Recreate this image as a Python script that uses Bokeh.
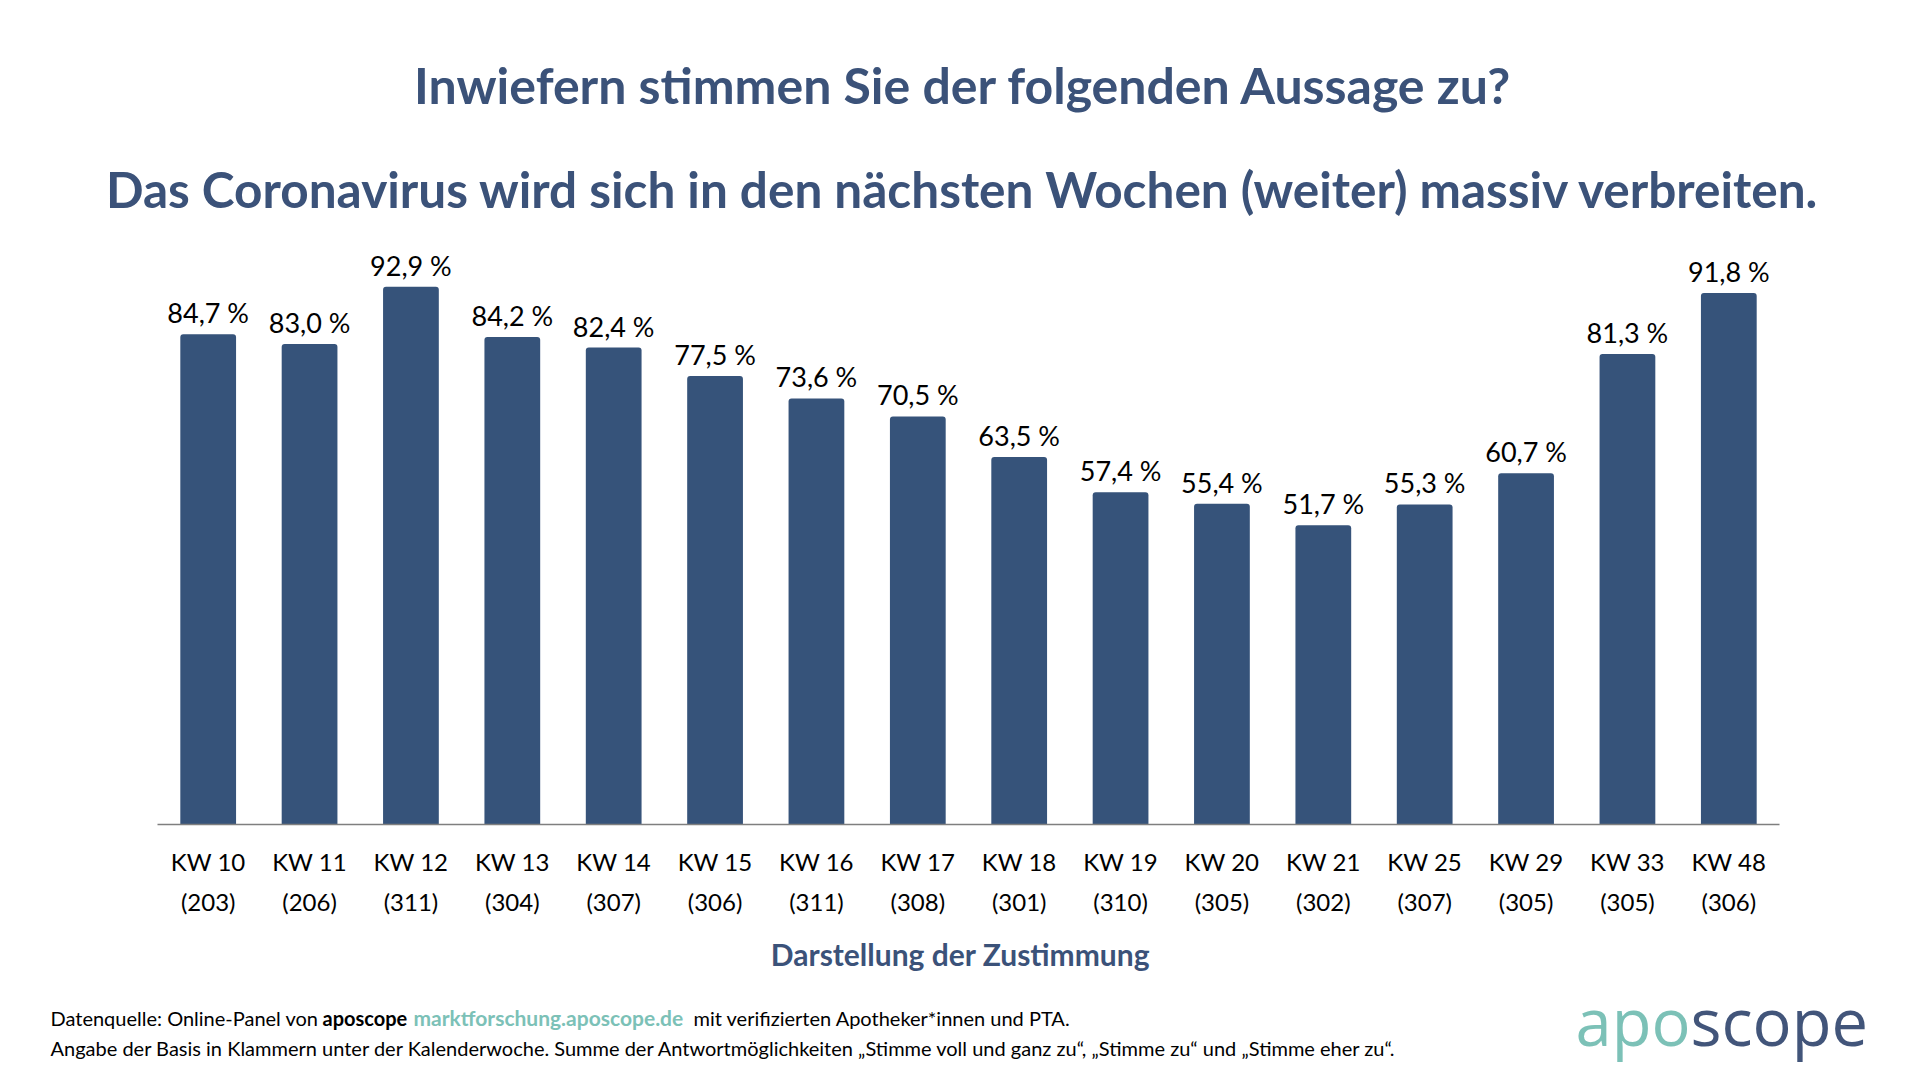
from bokeh.plotting import figure
from bokeh.layouts import column
from bokeh.models import ColumnDataSource, LabelSet, Range1d, FixedTicker
from bokeh.core.properties import value
from bokeh.embed import file_html
from bokeh.resources import INLINE

# ---------------- data ----------------
weeks = ["KW 10", "KW 11", "KW 12", "KW 13", "KW 14", "KW 15", "KW 16", "KW 17",
         "KW 18", "KW 19", "KW 20", "KW 21", "KW 25", "KW 29", "KW 33", "KW 48"]
bases = [203, 206, 311, 304, 307, 306, 311, 308, 301, 310, 305, 302, 307, 305, 305, 306]
values = [84.7, 83.0, 92.9, 84.2, 82.4, 77.5, 73.6, 70.5, 63.5, 57.4, 55.4, 51.7,
          55.3, 60.7, 81.3, 91.8]

title_1 = "Inwiefern stimmen Sie der folgenden Aussage zu?"
title_2 = "Das Coronavirus wird sich in den nächsten Wochen (weiter) massiv verbreiten."
x_title = "Darstellung der Zustimmung"
footer_1 = ["Datenquelle: Online-Panel von ", "aposcope", "marktforschung.aposcope.de",
            "mit verifizierten Apotheker*innen und PTA."]
footer_2 = ("Angabe der Basis in Klammern unter der Kalenderwoche. Summe der Antwortmöglichkeiten "
            "\u201eStimme voll und ganz zu\u201c, \u201eStimme zu\u201c und \u201eStimme eher zu\u201c.")
logo_parts = ["apo", "scope"]

# ---------------- styles ----------------
BAR = "#36537a"
BLUE = "#3b5279"
TEAL = "#7cc1b7"
LOGO_BLUE = "#42557a"
FONT = "Lato"
W = 1904
PLOT_L, PLOT_R = 157, 1779          # pixel extent of the category band


def blank(height):
    f = figure(width=W, height=height, x_range=Range1d(0, W), y_range=Range1d(0, height),
               min_border=0, output_backend="svg", toolbar_location=None, title=None,
               x_axis_location=None, y_axis_location=None,
               background_fill_color="white", border_fill_color="white")
    f.outline_line_color = None
    f.grid.visible = False
    return f


def put(f, x, y, text, size, color, style="normal", align="left", font=FONT):
    f.text(x=[x], y=[y], text=[text], text_font=value(font), text_font_size=value(size),
           text_font_style=style, text_color=color, text_align=align,
           text_baseline="alphabetic")


# ---------------- header ----------------
H_TOP = 222
head = blank(H_TOP)
put(head, 963, H_TOP - 104 + 20, title_1, "50px", BLUE, "bold", "center")
put(head, 963, H_TOP - 206 + 18, title_2, "49.5px", BLUE, "bold", "center")

# ---------------- main chart ----------------
n = len(weeks)
pos = [i + 0.5 for i in range(n)]
tick_text = [f"{w}\n({b})" for w, b in zip(weeks, bases)]
value_labels = [f"{v:.1f}".replace(".", ",") + " %" for v in values]
src = ColumnDataSource(dict(x=pos, value=values, label=value_labels))

unit = (PLOT_R - PLOT_L) / n
H_MAIN = 703
p = figure(
    x_range=Range1d(-PLOT_L / unit, (W - PLOT_L) / unit), y_range=Range1d(0, 104.0),
    width=W, height=H_MAIN,
    min_border_left=0, min_border_right=0, min_border_top=0, min_border_bottom=101,
    output_backend="svg", toolbar_location=None, title=None,
    y_axis_location=None, background_fill_color="white", border_fill_color="white",
)
p.outline_line_color = None
p.grid.visible = False

p.vbar(x="x", top="value", width=0.55, source=src, fill_color=BAR, line_color=None,
       border_radius=(3, 3, 0, 0))

p.add_layout(LabelSet(x="x", y="value", text="label", source=src, y_offset=11,
                      text_align="center", text_baseline="alphabetic",
                      text_font=value(FONT), text_font_size=value("27px"),
                      text_color="#000000"))

ax = p.xaxis[0]
ax.ticker = FixedTicker(ticks=pos)
ax.major_label_overrides = dict(zip(pos, tick_text))
ax.bounds = (0, n)
ax.major_tick_line_color = None
ax.minor_tick_line_color = None
ax.axis_line_color = "#7f7f7f"
ax.axis_line_width = 1.5
ax.major_label_text_font = FONT
ax.major_label_text_font_size = "24px"
ax.major_label_text_color = "#000000"
ax.major_label_text_line_height = 1.4
ax.major_label_standoff = 16

# ---------------- footer ----------------
H_FOOT = 147
BOT = H_TOP + H_MAIN + H_FOOT  # 1072
foot = blank(H_FOOT)
put(foot, 960, BOT - 963 + 10, x_title, "30px", BLUE, "bold", "center")
put(foot, 50, BOT - 1029 + 12, footer_1[0], "20px", "#000000")
put(foot, 322, BOT - 1029 + 12, footer_1[1], "20px", "#000000", "bold")
put(foot, 413, BOT - 1029 + 12, footer_1[2], "21px", TEAL, "bold")
put(foot, 693, BOT - 1029 + 12, footer_1[3], "20px", "#000000")
put(foot, 50, BOT - 1058 + 11, footer_2, "20px", "#000000")
put(foot, 1690, BOT - 1043 + 23, logo_parts[0], "65px", TEAL, "normal", "right", "Open Sans")
put(foot, 1690, BOT - 1043 + 23, logo_parts[1], "65px", LOGO_BLUE, "normal", "left", "Open Sans")

layout = column(head, p, foot, spacing=0)
open("out.html", "w").write(file_html(layout, INLINE))
